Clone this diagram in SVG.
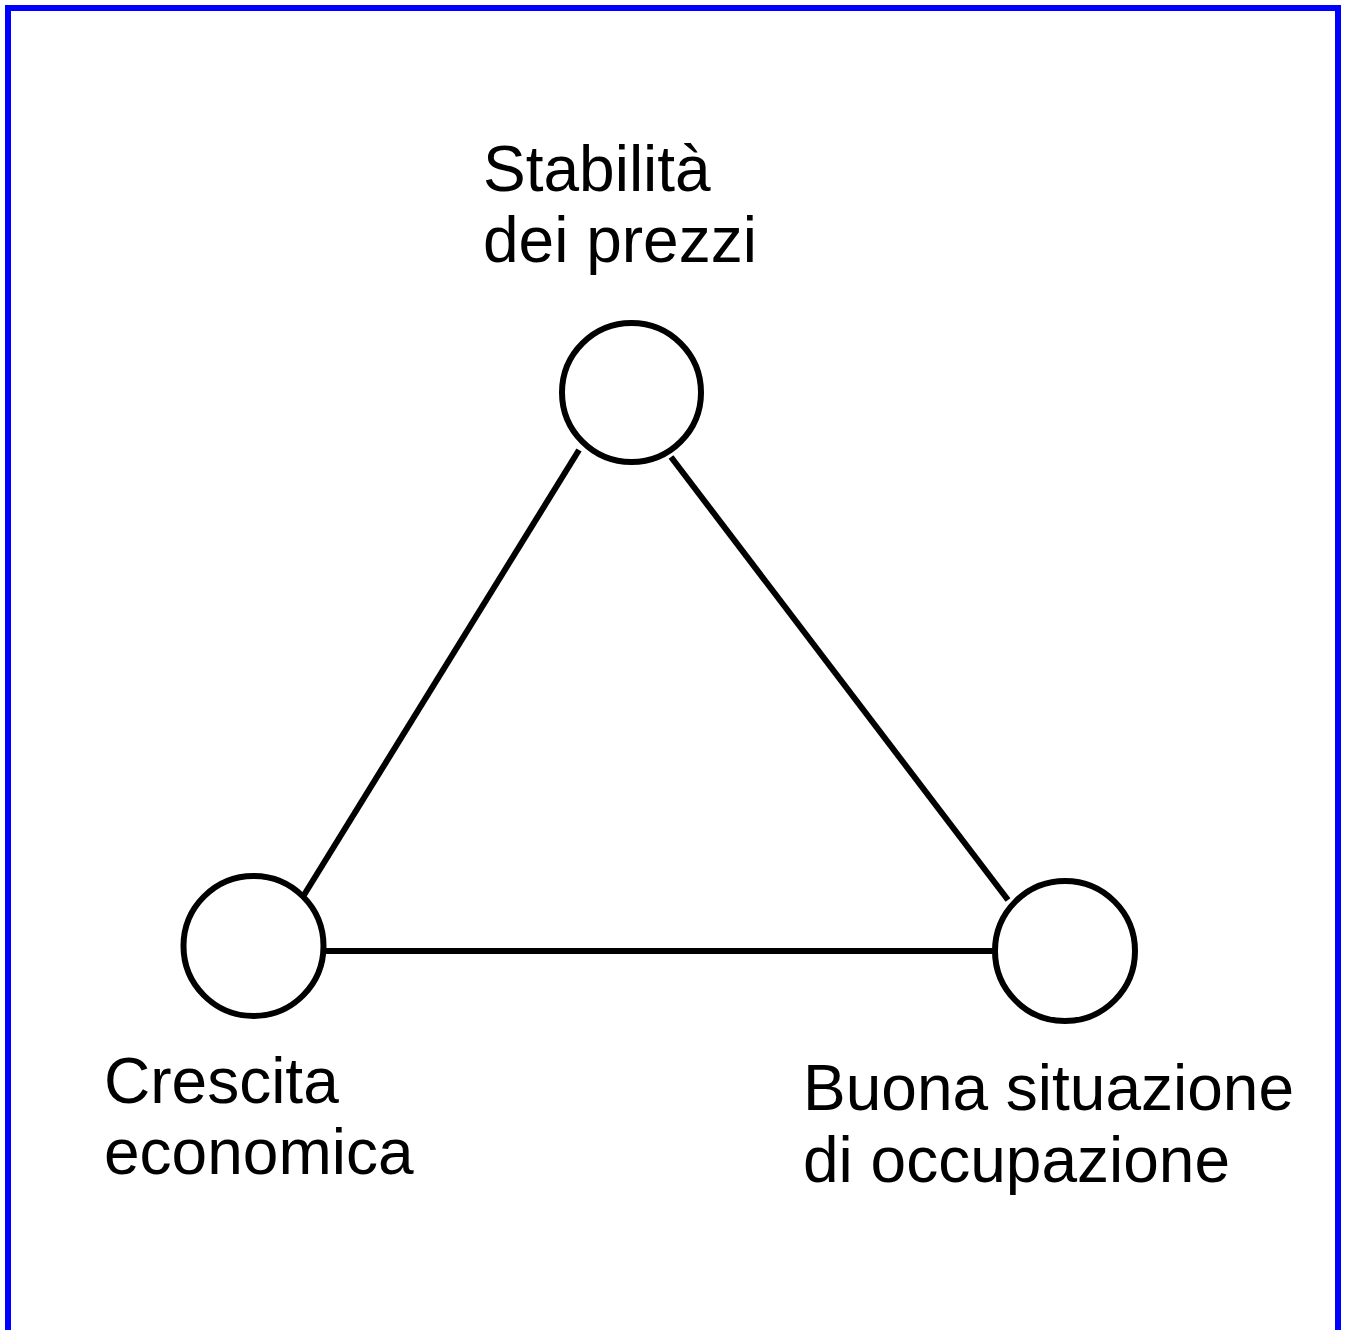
<svg xmlns="http://www.w3.org/2000/svg" width="1346" height="1330" viewBox="0 0 1346 1330">
<style>
.node{fill:#fff;stroke:#000;stroke-width:6}
.edge{stroke:#000;stroke-width:6;fill:none}
.lbl{font-family:"Liberation Sans",Arial,sans-serif;font-size:64px;fill:#000}
</style>
<rect x="0" y="0" width="1346" height="1330" fill="#fff"/>
<rect x="8" y="8" width="1330" height="1340" fill="none" stroke="#0000ff" stroke-width="6"/>
<g id="connectors">
<line class="edge" x1="579" y1="450" x2="304" y2="895"/>
<line class="edge" x1="671" y1="457" x2="1008" y2="900"/>
<line class="edge" x1="326" y1="951" x2="993" y2="951"/>
</g>
<g id="node-stabilita">
<circle class="node" cx="631.5" cy="392.5" r="69.5"/>
<text class="lbl" x="483" y="191">Stabilità</text>
<text class="lbl" x="483" y="262">dei prezzi</text>
</g>
<g id="node-crescita">
<circle class="node" cx="253.5" cy="946" r="70"/>
<text class="lbl" x="104" y="1103">Crescita</text>
<text class="lbl" x="104" y="1174">economica</text>
</g>
<g id="node-occupazione">
<circle class="node" cx="1065" cy="951" r="70"/>
<text class="lbl" x="803" y="1110">Buona situazione</text>
<text class="lbl" x="803" y="1182">di occupazione</text>
</g>
</svg>
